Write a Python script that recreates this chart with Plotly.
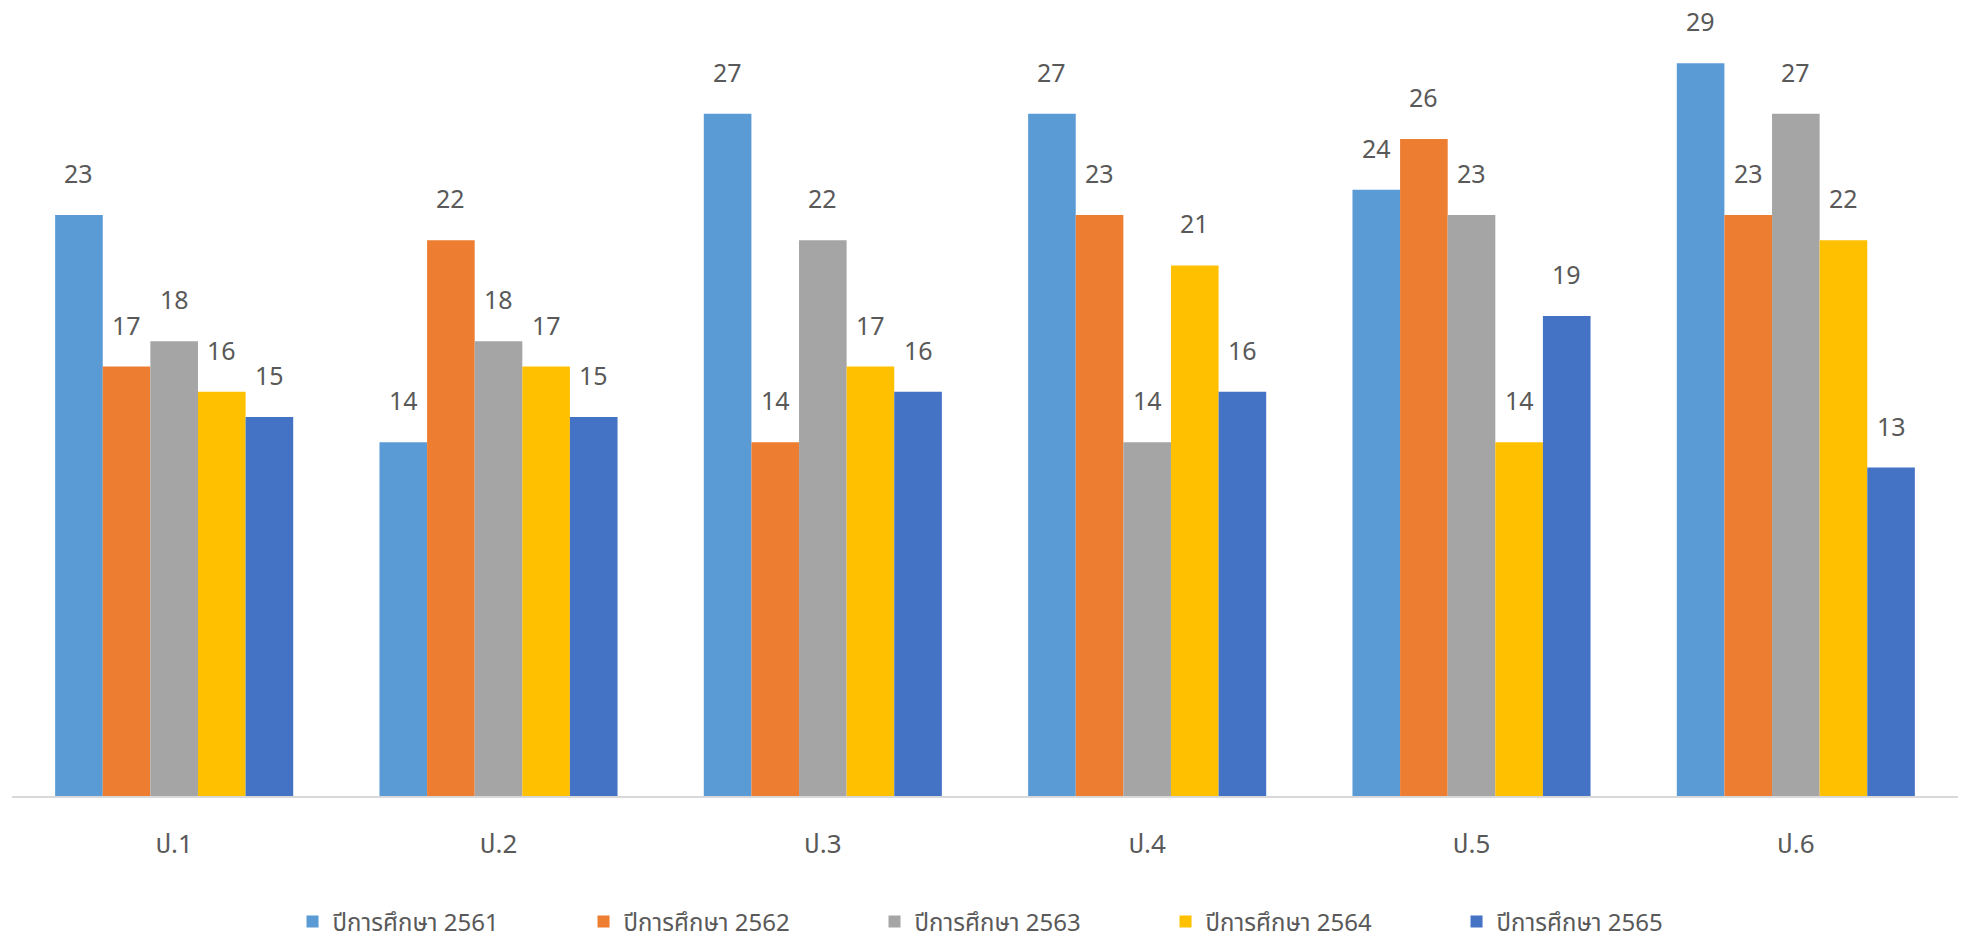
import plotly.graph_objects as go

categories = ["ป.1", "ป.2", "ป.3", "ป.4", "ป.5", "ป.6"]
series_names = ["ปีการศึกษา 2561", "ปีการศึกษา 2562", "ปีการศึกษา 2563", "ปีการศึกษา 2564", "ปีการศึกษา 2565"]
y2561 = [23, 14, 27, 27, 24, 29]
y2562 = [17, 22, 14, 23, 26, 23]
y2563 = [18, 18, 22, 14, 23, 27]
y2564 = [16, 17, 17, 21, 14, 22]
y2565 = [15, 15, 16, 16, 19, 13]
series_values = [y2561, y2562, y2563, y2564, y2565]
colors = ["#5B9BD5", "#ED7D31", "#A5A5A5", "#FFC000", "#4472C4"]

FONT = "Noto Sans Thai, Leelawadee UI, Noto Sans, sans-serif"
TXT = "#595959"
bargap = 0.266
n = len(series_values)
bw = (1 - bargap) / n

xpos = list(range(len(categories)))
fig = go.Figure()
annotations = []
for j, (name, vals, col) in enumerate(zip(series_names, series_values, colors)):
    fig.add_trace(go.Bar(
        x=xpos, y=vals, name=name,
        marker=dict(color=col, line=dict(width=0)),
    ))
    for i, v in enumerate(vals):
        annotations.append(dict(
            x=i + (j - (n - 1) / 2) * bw, y=v, xref="x", yref="y",
            text=str(v), showarrow=False, yanchor="middle", yshift=40,
            font=dict(family=FONT, size=25, color=TXT),
        ))

fig.update_layout(
    width=1966, height=944,
    margin=dict(l=4, r=16, t=0, b=156, autoexpand=False),
    paper_bgcolor="white", plot_bgcolor="white",
    barmode="group", bargap=bargap, bargroupgap=0,
    annotations=annotations,
    font=dict(family=FONT, color=TXT),
    legend=dict(
        orientation="h", x=0.518, xanchor="center",
        yref="container", y=0.032, yanchor="middle",
        font=dict(family=FONT, size=24, color=TXT),
        entrywidth=246, entrywidthmode="pixels",
        itemwidth=30,
    ),
    xaxis=dict(
        range=[-0.5, len(categories) - 0.5],
        tickmode="array", tickvals=xpos, ticktext=categories,
        showline=True, linecolor="#D9D9D9", linewidth=2,
        showgrid=False, zeroline=False, ticks="",
        tickfont=dict(family=FONT, size=26, color=TXT),
        ticklabelstandoff=24, automargin=False,
        fixedrange=True,
    ),
    yaxis=dict(
        range=[0, 31.19], visible=False, showgrid=False, zeroline=False,
        automargin=False, fixedrange=True,
    ),
)

fig.write_html("out.html")
